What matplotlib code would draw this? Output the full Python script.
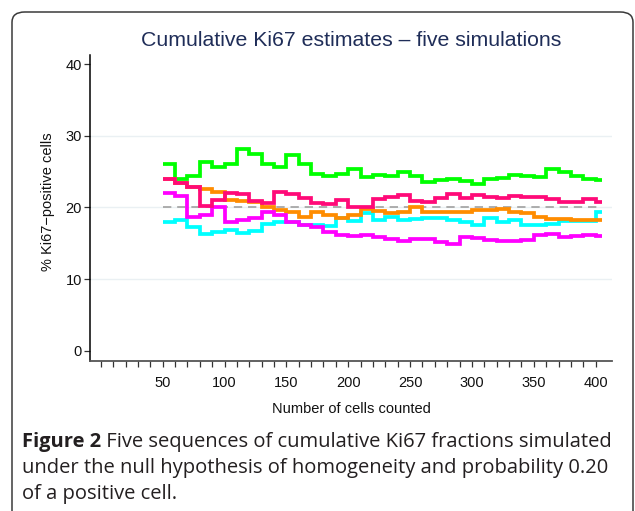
import matplotlib
matplotlib.use("Agg")
import matplotlib.pyplot as plt
from matplotlib.patches import FancyBboxPatch
import numpy as np

# ---------------- data ----------------
cells = list(range(50, 410, 10))          # start of each step (50..400)
last_edge = 405
green = [26.0, 24.0, 24.4, 26.3, 25.6, 26.0, 28.2, 27.5, 26.0, 25.7,
         27.3, 26.1, 24.7, 24.4, 24.7, 25.4, 24.3, 24.5, 24.4, 25.0,
         24.4, 23.6, 23.8, 24.0, 23.7, 23.3, 24.0, 24.1, 24.5, 24.4,
         24.2, 25.3, 24.9, 24.4, 23.9, 23.8]
rose = [24.0, 23.4, 22.9, 20.2, 21.0, 22.0, 21.8, 20.9, 20.6, 22.1,
        21.9, 21.3, 20.6, 20.5, 21.0, 20.1, 20.1, 21.2, 21.4, 21.7,
        20.9, 20.8, 21.3, 21.8, 21.3, 21.7, 21.4, 21.35, 21.6, 21.5,
        21.5, 21.2, 20.8, 20.8, 21.1, 20.8]
orange = [24.0, 23.4, 22.9, 22.5, 22.2, 21.0, 20.9, 20.8, 20.1, 19.6,
          19.3, 18.7, 19.3, 18.9, 18.5, 18.9, 19.8, 19.5, 19.2, 19.4,
          20.1, 19.3, 19.3, 19.3, 19.3, 19.6, 19.7, 19.8, 19.4, 19.2,
          18.6, 18.4, 18.4, 18.2, 18.2, 18.2]
cyan = [17.9, 18.3, 17.2, 16.3, 16.6, 16.9, 16.4, 16.7, 17.7, 17.9,
        18.0, 17.6, 17.5, 17.4, 18.5, 18.1, 19.2, 18.2, 18.6, 18.3,
        18.4, 18.5, 18.5, 18.2, 17.9, 17.6, 18.5, 17.9, 18.2, 17.6,
        17.6, 17.7, 18.1, 18.1, 18.1, 19.3]
magenta = [22.0, 21.6, 18.7, 18.9, 20.1, 18.0, 18.2, 18.5, 19.3, 18.9,
           17.9, 17.6, 17.2, 16.6, 16.2, 16.0, 16.2, 15.9, 15.65, 15.3,
           15.6, 15.6, 15.1, 14.9, 15.8, 15.7, 15.4, 15.3, 15.3, 15.5,
           16.2, 16.3, 15.9, 16.0, 16.2, 16.0]
null_p = 20
yticks = [0, 10, 20, 30, 40]
xtick_labels = [50, 100, 150, 200, 250, 300, 350, 400]
xminor = list(range(0, 410, 10))

title = "Cumulative Ki67 estimates \u2013 five simulations"
xlabel = "Number of cells counted"
ylabel = "% Ki67\u2212positive cells"
cap_bold = "Figure 2"
cap_lines = [" Five sequences of cumulative Ki67 fractions simulated",
             "under the null hypothesis of homogeneity and probability 0.20",
             "of a positive cell."]

# ---------------- figure ----------------
W, H = 635, 511
fig = plt.figure(figsize=(W / 100, H / 100), dpi=100)
plt.rcParams['font.family'] = ['Liberation Sans', 'DejaVu Sans']

def fx(px):
    return px / W

def fy(py):
    return 1 - py / H

# rounded border
border = FancyBboxPatch((fx(12), fy(560)), fx(633) - fx(12), fy(12) - fy(560),
                        boxstyle="round,pad=0,rounding_size=0.02",
                        transform=fig.transFigure, fill=False,
                        edgecolor='#3a3a3a', linewidth=1.1, clip_on=False)
fig.patches.append(border)

ax = fig.add_axes([fx(90.3), fy(361), fx(611.7) - fx(90.3), fy(55) - fy(361)])
ax.set_xlim(-8.5, 413)
ax.set_ylim(-1.44, 41.26)

for g in [10, 20, 30]:
    ax.axhline(g, color='#eaf0f3', linewidth=1.0, zorder=0)

edges = cells + [last_edge]
ax.plot([cells[0], last_edge], [null_p, null_p], color='#a0a0a0',
        linestyle=(0, (5, 3.5)), linewidth=1.2, zorder=1)

lw = 2.7
ax.stairs(green, edges, baseline=None, color='#00ff00', linewidth=lw, zorder=2)
ax.stairs(cyan, edges, baseline=None, color='#00ffff', linewidth=lw, zorder=3)
ax.stairs(orange, edges, baseline=None, color='#ff8c00', linewidth=lw, zorder=4)
ax.stairs(magenta, edges, baseline=None, color='#ff00ff', linewidth=lw, zorder=5)
ax.stairs(rose, edges, baseline=None, color='#ff0a78', linewidth=lw, zorder=6)

for s in ['top', 'right']:
    ax.spines[s].set_visible(False)
ax.spines['left'].set_color('#000000')
ax.spines['left'].set_linewidth(1.1)
ax.spines['bottom'].set_color('#555555')
ax.spines['bottom'].set_linewidth(1.3)

ax.set_yticks(yticks)
ax.set_yticklabels([str(v) for v in yticks])
ax.set_xticks(xtick_labels)
ax.set_xticklabels([str(v) for v in xtick_labels])
ax.set_xticks(xminor, minor=True)
ax.tick_params(axis='both', which='both', direction='out', length=4.5,
               width=0.9, color='#333333', labelsize=10.5, labelcolor='#111111')
ax.tick_params(axis='x', which='major', pad=6)
ax.tick_params(axis='y', which='major', pad=1.5)

fig.text(fx(351), fy(45.5), title, ha='center', va='baseline',
         fontsize=15.3, color='#1f2d58')
fig.text(fx(351), fy(413), xlabel, ha='center', va='baseline', fontsize=10.5,
         color='#111111')
fig.text(fx(48), fy(202), ylabel, ha='center', va='center', rotation=90,
         fontsize=10.5, color='#111111')

# caption
capfont = ['Open Sans', 'DejaVu Sans']
capsize = 14.5
base_y = [447, 473, 499]
t0 = fig.text(fx(22), fy(base_y[0]), cap_bold, ha='left', va='baseline',
              fontsize=capsize, fontweight='bold', family=capfont, color='#231f20')
fig.canvas.draw()
r = fig.canvas.get_renderer()
bb = t0.get_window_extent(renderer=r)
fig.text(bb.x1 / W, fy(base_y[0]), cap_lines[0], ha='left', va='baseline',
         fontsize=capsize, family=capfont, color='#231f20')
for line, by in zip(cap_lines[1:], base_y[1:]):
    fig.text(fx(22), fy(by), line, ha='left', va='baseline',
             fontsize=capsize, family=capfont, color='#231f20')

fig.savefig('out.png', dpi=100)
